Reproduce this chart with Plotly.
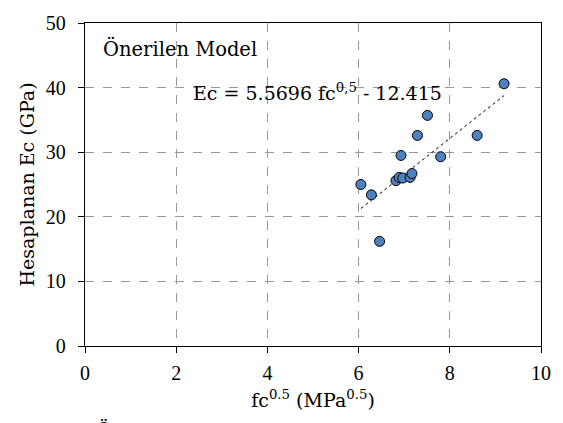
import plotly.graph_objects as go

x_vals = [9.19, 7.51, 7.29, 8.60, 6.93, 7.80, 6.05, 6.28, 6.46, 6.82, 6.89, 6.97, 7.13, 7.17]
y_vals = [40.6, 35.7, 32.6, 32.6, 29.5, 29.3, 25.0, 23.4, 16.2, 25.6, 26.1, 26.0, 26.1, 26.7]
slope = 5.5696
intercept = -12.415
x_ticks = [0, 2, 4, 6, 8, 10]
y_ticks = [0, 10, 20, 30, 40, 50]

TICKFONT = "Liberation Serif"
FONT = "DejaVu Serif"

x_line = [min(x_vals), max(x_vals)]
y_line = [slope * v + intercept for v in x_line]

fig = go.Figure()
fig.add_trace(go.Scatter(x=x_line, y=y_line, mode="lines",
                         line=dict(color="black", width=1, dash="dot"),
                         showlegend=False, hoverinfo="skip"))
fig.add_trace(go.Scatter(x=x_vals, y=y_vals, mode="markers",
                         marker=dict(size=10, color="#4F81BD",
                                     line=dict(color="black", width=1)),
                         showlegend=False))

axis_common = dict(showline=True, linecolor="black", linewidth=1.3, mirror=True,
                   showgrid=True, gridcolor="#999999", griddash="dash", gridwidth=1,
                   zeroline=False, ticks="outside", ticklen=6, tickcolor="black",
                   tickfont=dict(family=TICKFONT, size=20, color="black"))

fig.update_xaxes(range=[0, 10], tickvals=x_ticks, ticklabelstandoff=3, **axis_common,
                 title=dict(text="fc<sup>0.5</sup> (MPa<sup>0.5</sup>)",
                            font=dict(family=FONT, size=19, color="black"), standoff=10))
fig.update_yaxes(range=[0, 50], tickvals=y_ticks, ticklabelstandoff=8, **axis_common,
                 title=dict(text="Hesaplanan Ec (GPa)",
                            font=dict(family=FONT, size=19, color="black"), standoff=6))

fig.add_annotation(x=0.35, y=46.0, xref="x", yref="y", text="Önerilen Model",
                   showarrow=False, xanchor="left", yanchor="middle",
                   font=dict(family=FONT, size=19.5, color="black"))
fig.add_annotation(x=5.1, y=39.3, xref="x", yref="y",
                   text="Ec = 5.5696 fc<sup>0,5</sup> - 12.415",
                   showarrow=False, xanchor="center", yanchor="middle",
                   font=dict(family=FONT, size=19, color="black"))
fig.add_annotation(x=0.02, y=-0.218, xref="paper", yref="paper", text="Ö",
                   showarrow=False, xanchor="left", yanchor="top",
                   font=dict(family=FONT, size=19, color="black"))

fig.update_layout(width=563, height=423,
                  margin=dict(l=85, r=22, t=15, b=77),
                  plot_bgcolor="white", paper_bgcolor="white")

fig.write_html("out.html")
